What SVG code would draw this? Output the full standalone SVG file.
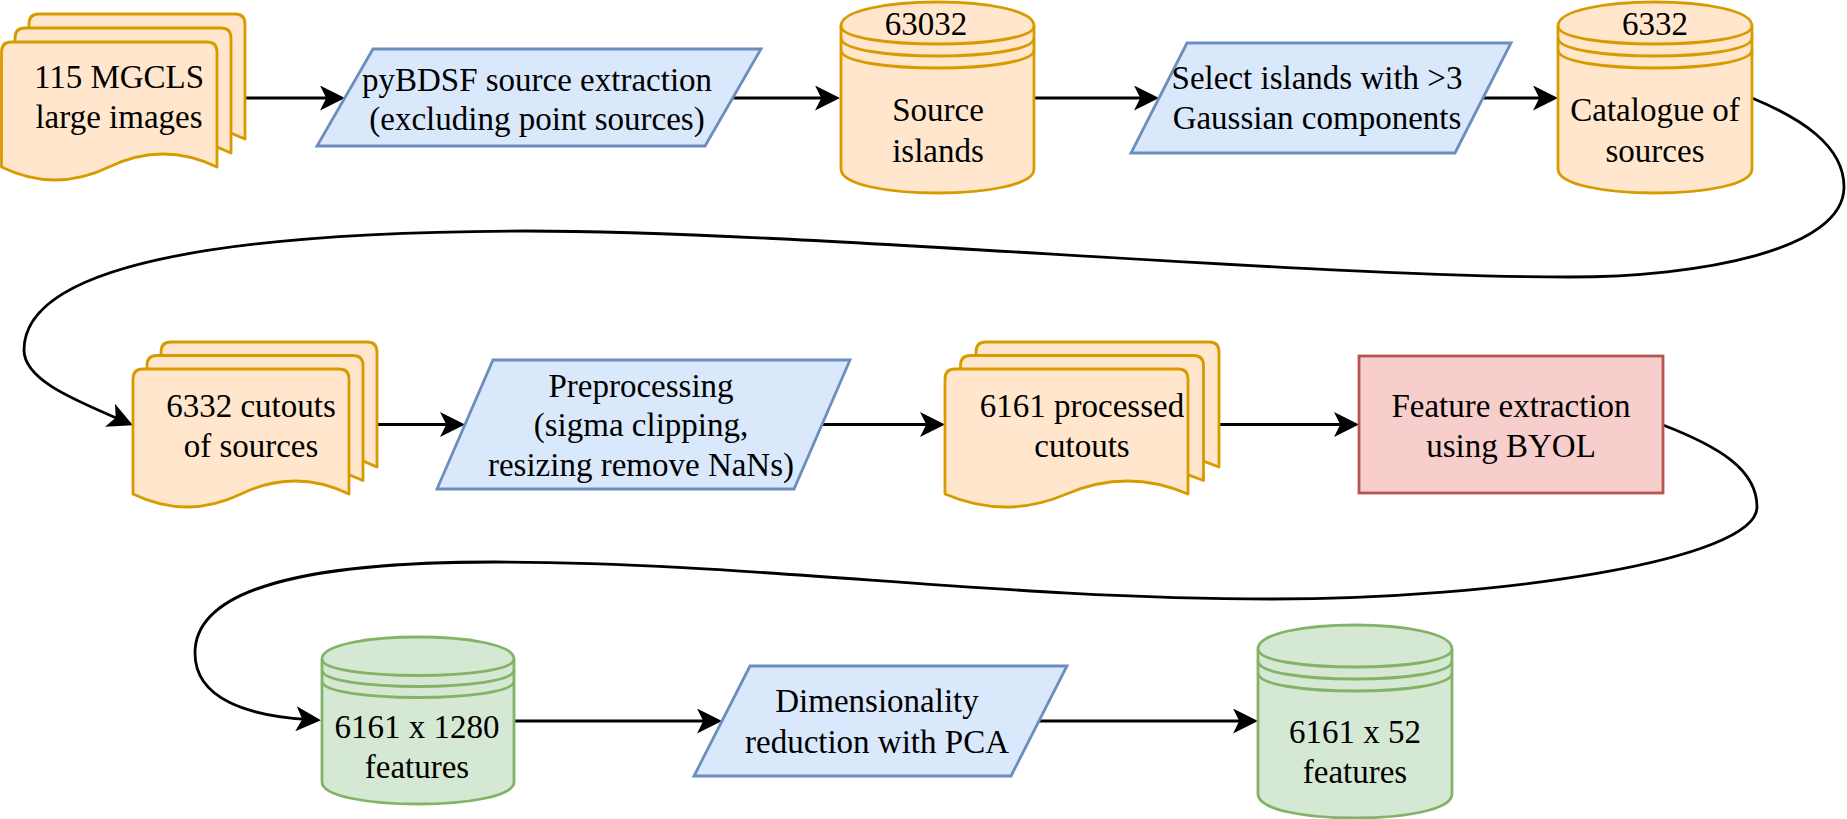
<svg xmlns="http://www.w3.org/2000/svg" width="1847" height="819" viewBox="0 0 1847 819">
<style>
.doc{fill:#ffe6cc;stroke:#d79b00;stroke-width:2.8;stroke-linejoin:round}
.cylo{fill:#ffe6cc;stroke:#d79b00;stroke-width:2.8}
.cylg{fill:#d5e8d4;stroke:#82b366;stroke-width:2.8}
.arc{fill:none}
.proc{fill:#dae8fc;stroke:#6c8ebf;stroke-width:2.8}
.red{fill:#f8cecc;stroke:#b85450;stroke-width:2.8}
.edge{fill:none;stroke:#000;stroke-width:2.8;marker-end:url(#arr)}
text{font-family:"Liberation Serif","Times New Roman",serif;font-size:33px;fill:#000;text-anchor:middle}
</style>
<defs>
<marker id="arr" viewBox="0 0 25 25" refX="12" refY="12.5" markerWidth="25" markerHeight="25" markerUnits="userSpaceOnUse" orient="auto">
<path d="M0,0 L25,12.5 L0,25 L6.25,12.5 Z" fill="#000"/>
</marker>
</defs>

<g id="connectors">
<path class="edge" d="M245,98 L332,98"/>
<path class="edge" d="M733,98 L827,98"/>
<path class="edge" d="M1034,98 L1146,98"/>
<path class="edge" d="M1483,98 L1545,98"/>
<path class="edge" d="M1752,98 C1800,118 1844,145 1844,187 C1844,250 1700,277 1569,277 C1300,277 800,231 526,231 C200,232 24,270 24,350 C24,380 75,400 121,420"/>
<path class="edge" d="M377,424.5 L452,424.5"/>
<path class="edge" d="M822,424.5 L932,424.5"/>
<path class="edge" d="M1219,424.5 L1346,424.5"/>
<path class="edge" d="M1663,425 C1720,447 1757,470 1757,507 C1757,560 1500,599 1271,599 C1000,599 750,562 495,562 C300,562 195,590 195,653 C195,700 250,716 308,719.5"/>
<path class="edge" d="M514,721 L709,721"/>
<path class="edge" d="M1039,721 L1245,721"/>
</g>

<g id="node-mgcls">
<path class="doc" d="M29,139 L29,24 Q29,14 39,14 L235,14 Q245,14 245,24 L245,139 Q191,113 137,139 Q83,165 29,139 Z"/>
<path class="doc" d="M15,153 L15,38 Q15,28 25,28 L221,28 Q231,28 231,38 L231,153 Q177,127 123,153 Q69,179 15,153 Z"/>
<path class="doc" d="M1.5,167 L1.5,52 Q1.5,42 11.5,42 L207,42 Q217,42 217,52 L217,167 Q163,141 109,167 Q55,193 1.5,167 Z"/>
<text x="119" y="88">115 MGCLS</text>
<text x="119" y="128">large images</text>
</g>

<g id="node-pybdsf">
<polygon class="proc" points="373,49 761,49 705,146 317,146"/>
<text x="537" y="91">pyBDSF source extraction</text>
<text x="537" y="130">(excluding point sources)</text>
</g>

<g id="node-islands">
<path class="cylo" d="M841,26 C841,-6 1034,-6 1034,26 L1034,169 C1034,201 841,201 841,169 Z"/>
<path class="cylo arc" d="M841,26 C841,50 1034,50 1034,26 M841,38 C841,62 1034,62 1034,38 M841,50 C841,74 1034,74 1034,50"/>
<text x="926" y="35">63032</text>
<text x="938" y="121">Source</text>
<text x="938" y="162">islands</text>
</g>

<g id="node-select">
<polygon class="proc" points="1187,43 1511,43 1455,153 1131,153"/>
<text x="1317" y="88.5">Select islands with &gt;3</text>
<text x="1317" y="129">Gaussian components</text>
</g>

<g id="node-catalogue">
<path class="cylo" d="M1558,26 C1558,-6 1752,-6 1752,26 L1752,169 C1752,201 1558,201 1558,169 Z"/>
<path class="cylo arc" d="M1558,26 C1558,50 1752,50 1752,26 M1558,38 C1558,62 1752,62 1752,38 M1558,50 C1558,74 1752,74 1752,50"/>
<text x="1655" y="35">6332</text>
<text x="1655" y="121">Catalogue of</text>
<text x="1655" y="162">sources</text>
</g>

<g id="node-cutouts">
<path class="doc" d="M161,467 L161,352 Q161,342 171,342 L367,342 Q377,342 377,352 L377,467 Q323,441 269,467 Q215,493 161,467 Z"/>
<path class="doc" d="M147,480.5 L147,365.5 Q147,355.5 157,355.5 L353,355.5 Q363,355.5 363,365.5 L363,480.5 Q309,454.5 255,480.5 Q201,506.5 147,480.5 Z"/>
<path class="doc" d="M133,494 L133,379 Q133,369 143,369 L339,369 Q349,369 349,379 L349,494 Q295,468 241,494 Q187,520 133,494 Z"/>
<text x="251" y="417">6332 cutouts</text>
<text x="251" y="457">of sources</text>
</g>

<g id="node-preprocessing">
<polygon class="proc" points="493,360 850,360 794,489 437,489"/>
<text x="641" y="397">Preprocessing</text>
<text x="641" y="436">(sigma clipping,</text>
<text x="641" y="476">resizing remove NaNs)</text>
</g>

<g id="node-processed">
<path class="doc" d="M976,467 L976,352 Q976,342 986,342 L1209,342 Q1219,342 1219,352 L1219,467 Q1158.25,441 1097.5,467 Q1036.75,493 976,467 Z"/>
<path class="doc" d="M960.5,480.5 L960.5,365.5 Q960.5,355.5 970.5,355.5 L1193.5,355.5 Q1203.5,355.5 1203.5,365.5 L1203.5,480.5 Q1142.75,454.5 1082,480.5 Q1021.25,506.5 960.5,480.5 Z"/>
<path class="doc" d="M945,494 L945,379 Q945,369 955,369 L1178,369 Q1188,369 1188,379 L1188,494 Q1127.25,468 1066.5,494 Q1005.75,520 945,494 Z"/>
<text x="1082" y="417">6161 processed</text>
<text x="1082" y="457">cutouts</text>
</g>

<g id="node-byol">
<rect class="red" x="1359" y="356" width="304" height="137"/>
<text x="1511" y="417">Feature extraction</text>
<text x="1511" y="457">using BYOL</text>
</g>

<g id="node-features1280">
<path class="cylg" d="M322,659 C322,629.67 514,629.67 514,659 L514,782 C514,811.33 322,811.33 322,782 Z"/>
<path class="cylg arc" d="M322,659 C322,681 514,681 514,659 M322,670 C322,692 514,692 514,670 M322,681 C322,703 514,703 514,681"/>
<text x="417" y="738">6161 x 1280</text>
<text x="417" y="778">features</text>
</g>

<g id="node-pca">
<polygon class="proc" points="750,666 1067,666 1011,776 694,776"/>
<text x="877" y="712">Dimensionality</text>
<text x="877" y="753">reduction with PCA</text>
</g>

<g id="node-features52">
<path class="cylg" d="M1258,649 C1258,617 1452,617 1452,649 L1452,794 C1452,826 1258,826 1258,794 Z"/>
<path class="cylg arc" d="M1258,649 C1258,673 1452,673 1452,649 M1258,661 C1258,685 1452,685 1452,661 M1258,673 C1258,697 1452,697 1452,673"/>
<text x="1355" y="743">6161 x 52</text>
<text x="1355" y="783">features</text>
</g>
</svg>
